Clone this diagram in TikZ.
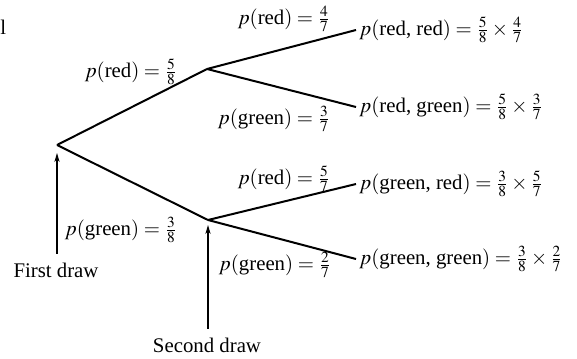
\documentclass[tikz,border=0pt]{standalone}
\usepackage{amsmath}
\usepackage{mathptmx}
\usepackage{fontspec}
\setmainfont{Liberation Serif}
\usepackage{tikz}
\usetikzlibrary{arrows.meta, positioning}

\begin{document}
\begin{tikzpicture}[
    x=0.5pt, y=-0.5pt,
    font=\fontsize{10.4}{12.5}\selectfont,
    branch/.style={line width=1pt},
    outcome/.style={anchor=west, inner sep=1.5pt},
    prob/.style={inner sep=0pt},
    arrow/.style={-{Stealth[length=4.5pt, width=2.6pt]}, line width=0.6pt}
]
\useasboundingbox (0,0) rectangle (577,358);
\node[anchor=base west, inner sep=0pt] (cut) at (0,35) {l};
\coordinate (root) at (57,145);
\coordinate (red) at (207,69);
\coordinate (green) at (208,220);
\node[outcome] (rr) at (356,30) {$p(\text{red, red}) = \frac{5}{8}\times\frac{4}{7}$};
\node[outcome] (rg) at (356,107) {$p(\text{red, green}) = \frac{5}{8}\times\frac{3}{7}$};
\node[outcome] (gr) at (356,184) {$p(\text{green, red}) = \frac{3}{8}\times\frac{5}{7}$};
\node[outcome] (gg) at (356,259) {$p(\text{green, green}) = \frac{3}{8}\times\frac{2}{7}$};
\node[prob] (pr1) at (131,72) {$p(\text{red}) = \frac{5}{8}$};
\node[prob] (pg1) at (121,230) {$p(\text{green}) = \frac{3}{8}$};
\node[prob] (pr2) at (284,19) {$p(\text{red}) = \frac{4}{7}$};
\node[prob] (pg2) at (274,119) {$p(\text{green}) = \frac{3}{7}$};
\node[prob] (pr3) at (284,179) {$p(\text{red}) = \frac{5}{7}$};
\node[prob] (pg3) at (275,265) {$p(\text{green}) = \frac{2}{7}$};
\node (first) at (56,270) {First draw};
\node (second) at (207,345) {Second draw};
\draw[branch] (root) -- (red);
\draw[branch] (root) -- (green);
\draw[branch] (red) -- (rr.west);
\draw[branch] (red) -- (rg.west);
\draw[branch] (green) -- (gr.west);
\draw[branch] (green) -- (gg.west);
\draw[arrow, shorten <=1pt, shorten >=4pt] (first.north -| root) -- (root);
\draw[arrow, shorten <=1pt, shorten >=2.5pt] (second.north -| green) -- (green);
\end{tikzpicture}
\end{document}
